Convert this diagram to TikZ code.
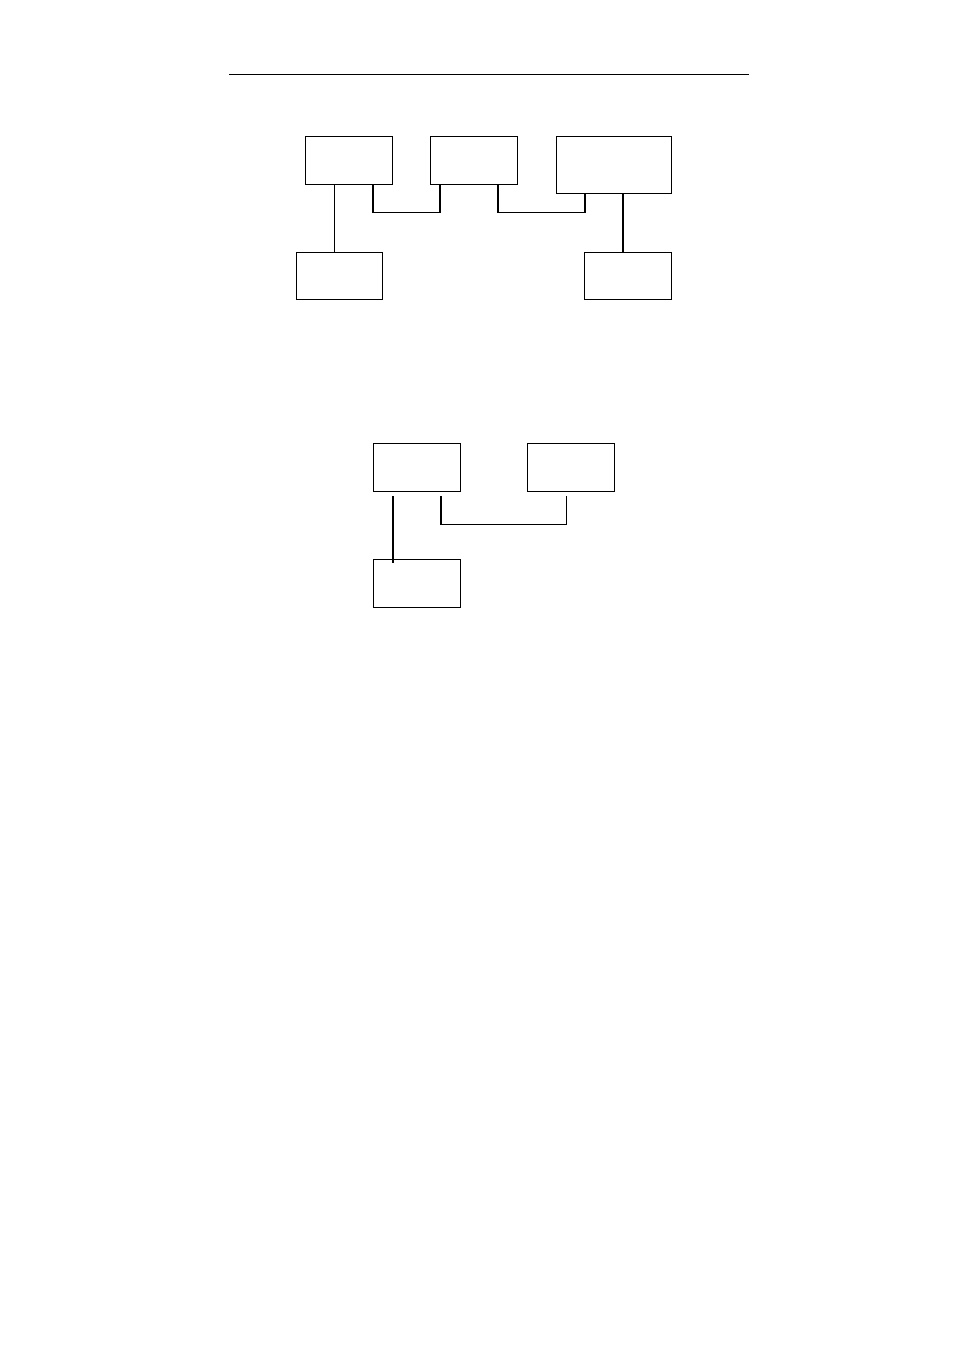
\documentclass[tikz,border=0pt]{standalone}
\usetikzlibrary{positioning}
\tikzset{blk/.style={draw, line width=0.8pt, inner sep=0pt, minimum width=87pt, minimum height=48pt},
  lnk/.style={line width=1.4pt}}
\begin{document}
\begin{tikzpicture}[x=1pt,y=-1pt]
  \useasboundingbox (0,0) rectangle (954,1351);
  \coordinate (rulel) at (229,74.5);
  \coordinate (ruler) at (749,74.5);
  \draw[line width=1pt] (rulel) -- (ruler);
  % upper diagram
  \node[blk] (a) at (348.5,160) {};
  \node[blk] (b) at (473.5,160) {};
  \node[blk, minimum width=115pt, minimum height=57pt] (c) at (613.5,164.5) {};
  \node[blk, minimum width=86pt, minimum height=47pt] (d) at (339,275.5) {};
  \node[blk, minimum height=47pt] (e) at (627.5,275.5) {};
  \draw[line width=0.8pt] ([xshift=-14.5pt]a.south) -- ([xshift=-5pt]d.north);
  \draw[lnk] ([xshift=24.5pt]a.south) -- ++(0,28) -| ([xshift=-33.5pt]b.south);
  \draw[lnk] ([xshift=24.5pt]b.south) -- ++(0,28) -| ([xshift=-28.5pt]c.south);
  \draw[lnk] ([xshift=9.5pt]c.south) -- ([xshift=-4.5pt]e.north);
  % lower diagram
  \node[blk] (f) at (416.5,467) {};
  \node[blk] (g) at (570.5,467) {};
  \node[blk] (h) at (416.5,583) {};
  \draw[lnk] ([xshift=-23.5pt,yshift=-5pt]f.south) -- ([xshift=-23.5pt,yshift=-4pt]h.north);
  \draw[lnk] ([xshift=24.5pt,yshift=-5pt]f.south) -- ++(0,28) -| ([xshift=-4pt,yshift=-5pt]g.south);
\end{tikzpicture}
\end{document}
